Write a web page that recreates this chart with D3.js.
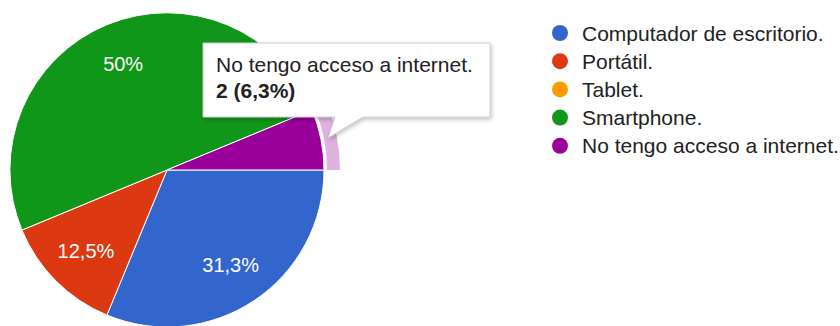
<!DOCTYPE html>
<html>
<head>
<meta charset="utf-8">
<script src="https://cdn.jsdelivr.net/npm/d3@7"></script>
<style>
  html, body { margin: 0; padding: 0; background: #fff; }
  svg { display: block; font-family: "Liberation Sans", Arial, sans-serif; }
</style>
</head>
<body>
<svg id="chart" width="840" height="326"></svg>
<script>
const categories = ["Computador de escritorio.", "Portátil.", "Tablet.", "Smartphone.", "No tengo acceso a internet."];
const counts = [10, 4, 0, 16, 2];
const colors = ["#3366cc", "#dc3912", "#ff9900", "#109618", "#990099"];
const highlighted = 4; // slice shown with tooltip

const svg = d3.select("#chart");
const cx = 167, cy = 170, R = 157;

const total = d3.sum(counts);
const fmtPct = v => d3.format(".1~f")(v * 100).replace(".", ",") + "%";

const data = categories.map((c, i) => ({ cat: c, value: counts[i], color: colors[i], i }));

const pie = d3.pie()
  .value(d => d.value)
  .sort(null)
  .startAngle(Math.PI / 2)
  .endAngle(Math.PI / 2 + 2 * Math.PI);

const arcs = pie(data);
const arc = d3.arc().innerRadius(0).outerRadius(R);
const labelArc = d3.arc().innerRadius(R * 0.73).outerRadius(R * 0.73);
const haloArc = d3.arc().innerRadius(R + 3).outerRadius(R + 16);

const g = svg.append("g").attr("transform", `translate(${cx},${cy})`);

g.selectAll("path.slice")
  .data(arcs.filter(a => a.data.value > 0))
  .join("path")
  .attr("class", "slice")
  .attr("d", arc)
  .attr("fill", d => d.data.color)
  .attr("stroke", "#fff")
  .attr("stroke-width", 1);

// hover halo on highlighted slice
const hArc = arcs[highlighted];
g.append("path")
  .attr("d", haloArc(hArc))
  .attr("fill", hArc.data.color)
  .attr("fill-opacity", 0.3);

// percentage labels
g.selectAll("text.pct")
  .data(arcs.filter(a => a.data.value / total >= 0.1))
  .join("text")
  .attr("class", "pct")
  .attr("transform", d => `translate(${labelArc.centroid(d)})`)
  .attr("text-anchor", "middle")
  .attr("dy", "0.36em")
  .attr("fill", "#fff")
  .attr("font-size", 20)
  .text(d => fmtPct(d.data.value / total));

// legend
const legend = svg.append("g").attr("transform", "translate(560,33)");
const rowH = 28.2;
const items = legend.selectAll("g.item")
  .data(data)
  .join("g")
  .attr("class", "item")
  .attr("transform", (d, i) => `translate(0,${i * rowH})`);
items.append("circle").attr("r", 8).attr("fill", d => d.color);
items.append("text")
  .attr("x", 22)
  .attr("dy", "0.36em")
  .attr("font-size", 21)
  .attr("fill", "#222")
  .text(d => d.cat);

// tooltip
const defs = svg.append("defs");
const f = defs.append("filter").attr("id", "shadow").attr("x", "-10%").attr("y", "-10%").attr("width", "130%").attr("height", "140%");
f.append("feDropShadow").attr("dx", 1).attr("dy", 2).attr("stdDeviation", 2).attr("flood-color", "#000").attr("flood-opacity", 0.25);

const tip = svg.append("g");
const bx = 203, by = 43, bw = 287, bh = 74;
tip.append("path")
  .attr("d", `M${bx},${by} H${bx + bw} V${by + bh} H363 L328,138 L335,${by + bh} H${bx} Z`)
  .attr("fill", "#fff")
  .attr("stroke", "#cccccc")
  .attr("stroke-width", 1)
  .attr("filter", "url(#shadow)");
tip.append("text")
  .attr("x", 216).attr("y", 72)
  .attr("font-size", 21)
  .attr("fill", "#222")
  .text(categories[highlighted]);
tip.append("text")
  .attr("x", 216).attr("y", 98)
  .attr("font-size", 21)
  .attr("font-weight", "bold")
  .attr("fill", "#222")
  .text(`${counts[highlighted]} (${fmtPct(counts[highlighted] / total)})`);
</script>
</body>
</html>
